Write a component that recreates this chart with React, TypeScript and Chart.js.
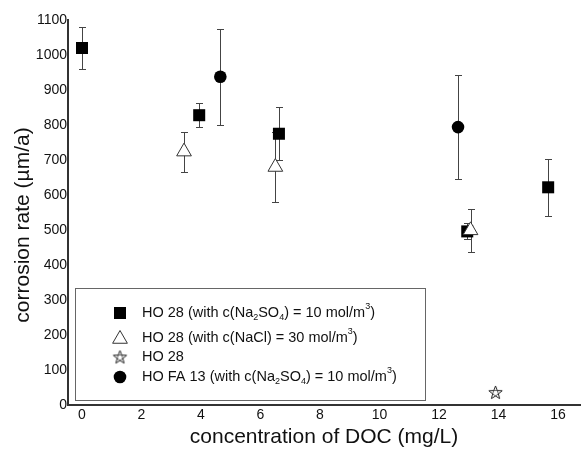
import React, { useEffect, useRef } from "react";
import { Chart, registerables } from "chart.js";

Chart.register(...registerables);

// ---- data ----
const xTickValues = [0, 2, 4, 6, 8, 10, 12, 14, 16];

const squareX = [0, 3.94, 6.62, 12.95, 15.67];
const squareY = [1020, 828, 775, 496, 622];
const squareErr = [60, 35, 76, 23, 81];

const triangleX = [3.43, 6.5, 13.06];
const triangleY = [724, 680, 499];
const triangleErr = [57, 100, 61];

const starX = [13.9];
const starY = [36];

const circleX = [4.65, 12.64];
const circleY = [938, 794];
const circleErr = [137, 149];

type Seg = { t: string; sub?: boolean; sup?: boolean };
const legendSquare: Seg[] = [
  { t: "HO 28 (with c(Na" }, { t: "2", sub: true }, { t: "SO" }, { t: "4", sub: true },
  { t: ") = 10 mol/m" }, { t: "3", sup: true }, { t: ")" },
];
const legendTriangle: Seg[] = [
  { t: "HO 28 (with c(NaCl) = 30 mol/m" }, { t: "3", sup: true }, { t: ")" },
];
const legendStar: Seg[] = [{ t: "HO 28" }];
const legendCircle: Seg[] = [
  { t: "HO FA 13 (with c(Na" }, { t: "2", sub: true }, { t: "SO" }, { t: "4", sub: true },
  { t: ") = 10 mol/m" }, { t: "3", sup: true }, { t: ")" },
];

const xTitle = "concentration of DOC (mg/L)";
const yTitle = "corrosion rate (µm/a)";

const FONT = "'Liberation Sans', Arial, sans-serif";
const INK = "#111";
const LINE = "#333";

function makeStar(): HTMLCanvasElement {
  const c = document.createElement("canvas");
  c.width = 17;
  c.height = 17;
  const g = c.getContext("2d")!;
  const cx = 8.5;
  const cy = 9;
  const pts: [number, number][] = [];
  for (let i = 0; i < 10; i++) {
    const r = i % 2 === 0 ? 7 : 3;
    const a = -Math.PI / 2 + (i * Math.PI) / 5;
    pts.push([cx + r * Math.cos(a), cy + r * Math.sin(a)]);
  }
  g.beginPath();
  pts.forEach(([px, py], i) => (i === 0 ? g.moveTo(px, py) : g.lineTo(px, py)));
  g.closePath();
  g.fillStyle = "#fff";
  g.fill();
  g.strokeStyle = "#222";
  g.lineWidth = 1;
  g.stroke();
  g.beginPath();
  pts.filter((_, i) => i % 2 === 1).forEach(([px, py], i) => (i === 0 ? g.moveTo(px, py) : g.lineTo(px, py)));
  g.closePath();
  g.lineWidth = 0.7;
  g.stroke();
  return c;
}

function drawRich(ctx: CanvasRenderingContext2D, segs: Seg[], x: number, y: number) {
  let cx = x;
  for (const s of segs) {
    if (s.sub || s.sup) {
      ctx.font = `9px ${FONT}`;
      ctx.fillText(s.t, cx, y + (s.sub ? 5 : -6));
    } else {
      ctx.font = `14.5px ${FONT}`;
      ctx.fillText(s.t, cx, y);
    }
    cx += ctx.measureText(s.t).width;
  }
}

const errorBarPlugin = {
  id: "errorBars",
  beforeDatasetsDraw(chart: any) {
    const { ctx, scales } = chart;
    const x = scales.x;
    const y = scales.y;
    ctx.save();
    ctx.strokeStyle = "#444";
    ctx.lineWidth = 1;
    chart.data.datasets.forEach((ds: any) => {
      if (!ds.errors) return;
      ds.data.forEach((p: any, i: number) => {
        const e = ds.errors[i];
        const px = Math.round(x.getPixelForValue(p.x)) + 0.5;
        const top = Math.round(y.getPixelForValue(p.y + e)) + 0.5;
        const bot = Math.round(y.getPixelForValue(p.y - e)) + 0.5;
        ctx.beginPath();
        ctx.moveTo(px, top);
        ctx.lineTo(px, bot);
        ctx.moveTo(px - 3.5, top);
        ctx.lineTo(px + 3.5, top);
        ctx.moveTo(px - 3.5, bot);
        ctx.lineTo(px + 3.5, bot);
        ctx.stroke();
      });
    });
    ctx.restore();
  },
};

const decorPlugin = (star: HTMLCanvasElement) => ({
  id: "decor",
  afterDraw(chart: any) {
    const { ctx, chartArea } = chart;
    ctx.save();
    // y axis title
    ctx.fillStyle = INK;
    ctx.font = `21px ${FONT}`;
    ctx.textAlign = "center";
    ctx.textBaseline = "middle";
    ctx.translate(23, 225);
    ctx.rotate(-Math.PI / 2);
    ctx.fillText(yTitle, 0, 0);
    ctx.restore();

    // legend box
    const L = chartArea.left + 7;
    const T = 288;
    const R = 425;
    const B = chartArea.bottom - 5;
    ctx.save();
    ctx.fillStyle = "#fff";
    ctx.fillRect(L, T, R - L, B - T);
    ctx.strokeStyle = "#666";
    ctx.lineWidth = 1;
    ctx.strokeRect(L + 0.5, T + 0.5, R - L, B - T);

    const mx = 120;
    const tx = 142;
    const rows = [313, 338, 357, 377];
    // square
    ctx.fillStyle = "#000";
    ctx.fillRect(mx - 6, rows[0] - 6, 12, 12);
    // triangle
    const r = 8.5;
    const ty = rows[1] + 1;
    ctx.beginPath();
    ctx.moveTo(mx, ty - r);
    ctx.lineTo(mx + r * Math.sin((2 * Math.PI) / 3), ty - r * Math.cos((2 * Math.PI) / 3));
    ctx.lineTo(mx + r * Math.sin((4 * Math.PI) / 3), ty - r * Math.cos((4 * Math.PI) / 3));
    ctx.closePath();
    ctx.fillStyle = "#fff";
    ctx.fill();
    ctx.strokeStyle = LINE;
    ctx.stroke();
    // star
    ctx.drawImage(star, mx - 8.5, rows[2] - 8.5);
    // circle
    ctx.beginPath();
    ctx.arc(mx, rows[3], 6.3, 0, Math.PI * 2);
    ctx.fillStyle = "#000";
    ctx.fill();

    ctx.fillStyle = INK;
    ctx.textAlign = "left";
    ctx.textBaseline = "middle";
    drawRich(ctx, legendSquare, tx, rows[0]);
    drawRich(ctx, legendTriangle, tx, rows[1]);
    drawRich(ctx, legendStar, tx, rows[2]);
    drawRich(ctx, legendCircle, tx, rows[3]);
    ctx.restore();
  },
});

export default function App() {
  const ref = useRef<HTMLCanvasElement | null>(null);

  useEffect(() => {
    if (!ref.current) return;
    const star = makeStar();
    const toPts = (xs: number[], ys: number[]) => xs.map((x, i) => ({ x, y: ys[i] }));
    const chart = new Chart(ref.current, {
      type: "scatter",
      data: {
        datasets: [
          {
            label: "triangle",
            data: toPts(triangleX, triangleY),
            errors: triangleErr,
            pointStyle: "triangle",
            pointRadius: 8.5,
            backgroundColor: "#fff",
            borderColor: LINE,
            borderWidth: 1,
            order: 0,
          } as any,
          {
            label: "square",
            data: toPts(squareX, squareY),
            errors: squareErr,
            pointStyle: "rect",
            pointRadius: 8.5,
            backgroundColor: "#000",
            borderColor: "#000",
            borderWidth: 0,
            order: 1,
          } as any,
          {
            label: "star",
            data: toPts(starX, starY),
            pointStyle: star,
            pointRadius: 8,
            order: 0,
          } as any,
          {
            label: "circle",
            data: toPts(circleX, circleY),
            errors: circleErr,
            pointStyle: "circle",
            pointRadius: 6.3,
            backgroundColor: "#000",
            borderColor: "#000",
            borderWidth: 0,
            order: 1,
          } as any,
        ],
      },
      options: {
        responsive: false,
        animation: false,
        layout: { autoPadding: false, padding: { top: 20, right: 1, left: 0, bottom: 0 } },
        plugins: {
          legend: { display: false },
          tooltip: { enabled: false },
        },
        scales: {
          x: {
            type: "linear",
            min: -0.47,
            max: 16.74,
            afterBuildTicks: (s: any) => {
              s.ticks = xTickValues.map((v) => ({ value: v }));
            },
            afterFit: (s: any) => {
              s.height = 45;
              s.paddingLeft = 0;
              s.paddingRight = 0;
            },
            grid: { display: false, drawTicks: false },
            border: { display: true, color: LINE, width: 2 },
            ticks: {
              padding: 2,
              color: INK,
              font: { family: FONT, size: 14 },
              maxRotation: 0,
              callback: (v: any) => String(v),
            },
            title: {
              display: true,
              text: xTitle,
              color: INK,
              font: { family: FONT, size: 21 },
              padding: { top: 0, bottom: 0 },
            },
          },
          y: {
            type: "linear",
            min: 0,
            max: 1100,
            afterFit: (s: any) => {
              s.width = 68;
              s.paddingTop = 0;
              s.paddingBottom = 0;
            },
            grid: { display: false, drawTicks: false },
            border: { display: true, color: LINE, width: 2 },
            ticks: {
              stepSize: 100,
              padding: 1,
              color: INK,
              font: { family: FONT, size: 14 },
              callback: (v: any) => String(v),
            },
          },
        },
      } as any,
      plugins: [errorBarPlugin, decorPlugin(star)],
    });
    return () => chart.destroy();
  }, []);

  return (
    <div style={{ position: "absolute", left: 0, top: 0, width: 581, height: 450, background: "#fff" }}>
      <canvas ref={ref} width={581} height={450} style={{ display: "block" }} />
    </div>
  );
}
